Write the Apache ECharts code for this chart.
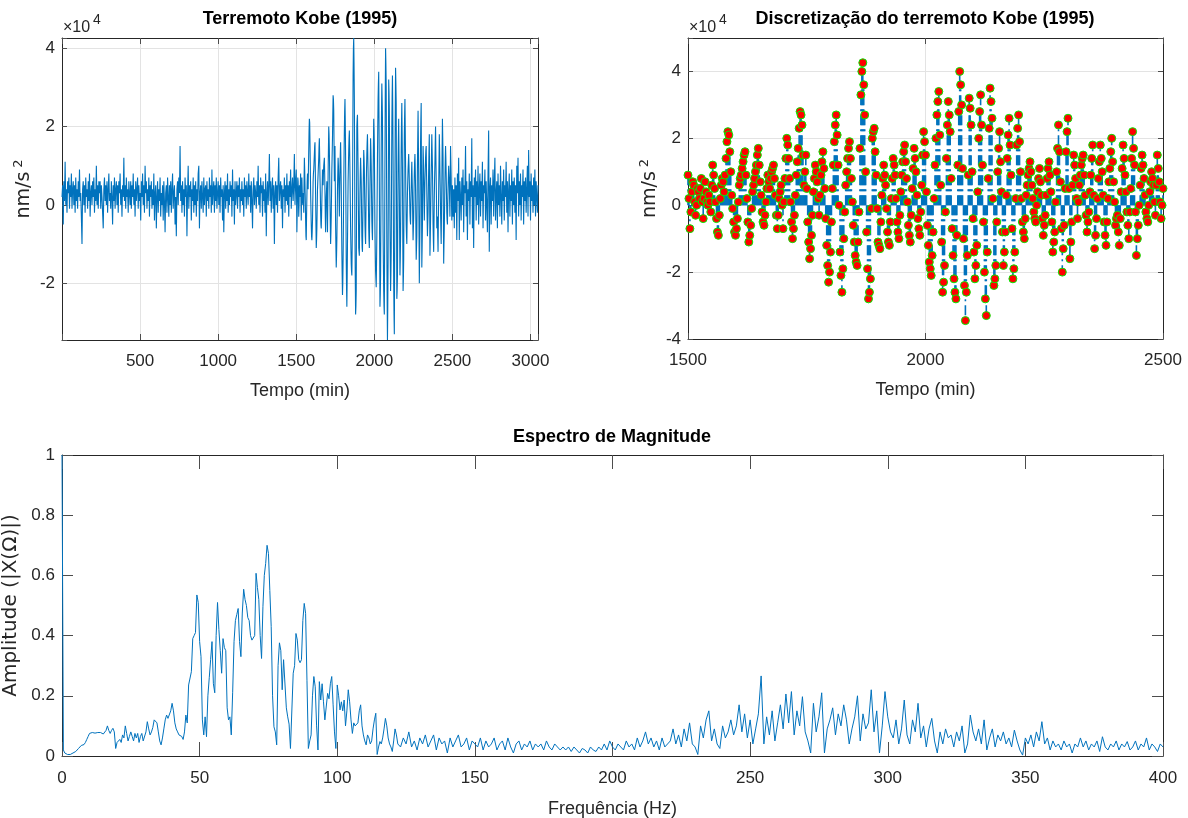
<!DOCTYPE html>
<html>
<head>
<meta charset="utf-8">
<script src="https://cdn.jsdelivr.net/npm/echarts@6/dist/echarts.min.js"></script>
<style>
html,body{margin:0;padding:0;background:#ffffff;}
#chart{width:1188px;height:818px;}
</style>
</head>
<body>
<div id="chart"></div>
<script>
// ---------------- DATA ----------------
// Kobe earthquake record, acceleration in 10^3 nm/s^2
// part 1: 0..1496 min, one value every 4 min
const kobeAStart = 0, kobeAStep = 4;
const kobeA = [
  2,5,-5,6,1,11,0,4,-2,6,
  3,7,-1,5,2,8,-1,4,6,0,
  5,-2,7,1,4,-1,6,2,9,1,
  3,-3,-10,4,6,0,5,-2,7,2,
  4,-1,6,1,8,-3,3,5,0,6,
  2,7,-2,4,1,10,0,5,-1,6,
  3,6,-1,5,2,-2,-6,4,7,1,
  5,0,6,-2,4,8,1,3,-1,6,
  2,-5,5,1,7,-1,4,6,0,5,
  -2,6,3,8,0,4,-3,5,2,12,
  1,5,-1,7,2,4,-2,6,3,0,
  6,-1,5,2,8,0,4,-3,6,1,
  4,7,-1,5,1,3,-4,6,2,8,
  0,5,-2,10,3,6,-1,4,1,7,
  -3,5,2,6,-1,4,0,8,-4,3,
  5,-6,2,6,-2,4,1,7,-3,3,
  0,5,-4,6,1,-7,3,5,-2,7,
  2,-3,5,0,6,-2,4,8,-1,3,
  5,-5,2,-8,4,6,0,7,3,15,
  1,5,-2,6,0,4,-3,7,2,5,
  -8,3,10,-1,5,2,6,-4,4,1,
  7,-2,5,0,6,-3,4,1,8,10,
  -6,3,5,-1,6,2,-2,7,0,4,
  5,-3,6,1,4,-1,7,2,5,-2,
  9,0,4,6,-2,5,1,7,-1,3,
  6,0,5,-2,7,2,4,-4,5,-7,
  3,6,-1,5,1,8,-2,4,0,6,
  2,5,-3,9,1,4,-5,6,0,3,
  6,-1,5,2,7,-2,4,1,6,0,
  4,-3,7,2,5,-1,6,3,0,8,
  2,5,-2,6,1,-6,4,7,0,5,
  3,-1,6,2,10,0,5,-2,7,3,
  5,-3,6,1,4,-2,8,-8,3,6,
  0,5,13,1,6,-2,4,7,-1,5,
  -10,3,6,0,5,-2,7,12,1,4,
  6,-1,5,-6,4,2,7,-2,5,1,
  8,0,5,-3,6,2,9,-1,4,7,
  1,5,13,0,6
];
// part 2: 1500..2500 min, one value every 2 min
const kobeBStart = 1500, kobeBStep = 2;
const kobeB = [
  9,2,-7,-2,4,7,6,1,-3,0,5,4,2,5,8,1,-4,2,7,4,
  1,0,3,1,-2,6,12,9,5,1,-4,-8,-9,-3,2,6,8,7,4,9,
  14,19,22,21,16,10,3,-1,-5,-8,-9,-7,-4,1,6,8,9,11,13,15,
  16,9,2,-5,-11,-9,-6,-1,4,6,8,10,12,15,17,12,7,3,-2,-5,
  -6,-3,1,5,9,7,5,8,10,11,12,8,3,-3,-7,-3,2,4,6,0,
  -7,1,8,14,20,18,14,8,1,-5,-10,-7,-3,3,9,13,17,23,28,27,
  24,15,6,10,15,5,-5,-11,-16,-13,-9,-3,4,8,12,10,7,2,-3,3,
  9,13,16,11,5,-4,-12,-18,-23,-20,-14,-5,5,12,19,24,27,21,12,0,
  -14,-21,-26,-19,-10,-2,6,10,14,17,19,14,8,1,-6,-11,-15,-17,-18,-11,
  -2,17,33,40,42.6,36,27,10,-8,-19,-28,-26,-22,-1,20,22,23,16,9,-1,
  -11,-12,-13,-5,3,8,12,9,6,-1,-8,-11,-12,-5,2,8,14,12,9,2,
  -5,-8,-10,-3,4,9,13,16,18,13,8,1,-6,-9,-11,-3,5,11,17,14,
  10,3,-4,-7,-9,-2,6,15,22,19,15,4,-6,-12,-17,-19,-21,-15,-8,2,
  12,20,27,31,34,21,6,-11,-26,-23,-18,-2,14,24,31,27,22,8,-7,-15,
  -22,-26,-28,-9,12,28,40,36,30,11,-10,-24,-34.5,-26,-15,9,32,29,24,10,
  -4,-14,-22,-18,-12,4,20,28,33,24,12,-5,-20,-28,-33,-14,8,23,35,31,
  26,2,-24,-22,-18,-5,10,17,22,13,4,-8,-18,-14,-8,3,14,21,26,18,
  9,-7,-22,-19,-14,2,18,23,27,19,10,2,-5,-8,-10,-4,3,6,9,11,
  13,10,6,2,-2,-4,-5,0,4,8,11,7,3,-4,-9,-6,-3,3,8,11,
  13,9,4,-5,-14,-11,-8,1,10,17,24,16,7,-7,-20,-13,-6,5,16,22,
  26,5,-16,-11,-5,6,15,12,8,2,-4,1,6,9,12,14,15,9,3,-3,
  -8,-5,-2,4,9,14,18,3,-13,-9,-4,2,8,13,18,14,10,3,-5,-9,
  -12,-5,2,7,11,16,20,13,7,1,-6,-4,-3,-8,-12,-4,4,11,18,14,
  9,4,-2,-6,-10,-2,5,14,22,17,12,-2,-15,-10,-6,0,6,11,15,12,
  8,3,-2,-4,-5,0,4,7,10,8,6,1,-3,6,15,11,7,1,-4,0,
  5
];
// part 3: 2504..3048 min, one value every 4 min
const kobeCStart = 2504, kobeCStep = 4;
const kobeC = [
  -3,4,-6,7,-2,5,-9,8,1,12,
  -9,6,2,-4,7,0,9,-7,5,3,
  15,-3,6,-9,4,1,8,-5,6,2,
  17,-6,5,-11,7,2,9,-4,6,0,
  10,-5,4,8,-3,6,1,11,-6,5,
  3,9,-4,6,0,-7,8,19,-12,4,
  7,-5,5,1,9,-3,6,12,-4,3,
  6,-6,8,0,5,-3,10,2,-5,6,
  1,9,-4,5,2,11,-2,6,-7,4,
  8,-3,5,1,9,-5,6,0,7,-2,
  5,-9,10,3,12,-3,6,0,8,-4,
  5,2,9,-5,6,1,7,-2,4,10,
  -3,14,2,6,-4,8,1,5,-2,7,
  0,9,-3,6,2,-2,5
];
const kobeTimeMax = 3048;
const stemFrom = 1500;
const stemTo = 2500;

// Magnitude spectrum (normalised), in hundredths
const specLowStartHz = 0, specLowStepHz = 0.5;
const specLow = [
  100,2,1,1,0.5,0.5,0.5,0.7,1,1.2,
  1.5,2,2.5,3,3.5,4,3.8,4.5,5.5,6.5,
  7.5,7,7.8,8,7.6,8.2,7.8,7.5,7.8,7.2,
  7.3,7.8,8.5,10,8.5,7.5,8.5,9.2,8,2.5,
  4.5,4.8,5.5,4.5,7,6,10,7.5,5,6.5,
  8,6.5,5,7.5,6,7.5,4.5,6.5,7.5,5,
  4.8,8,11.4,9,7,8,9.5,12,12.5,11,
  8,5,3.7,6,9,12,13.6,12.5,13,15,
  17.5,15,11,9,8,7,7.5,6.5,5.5,8,
  13.6,11,23.6,23,28,39,40,41,53.5,51,
  38,33,12,7,13,6.4,20,26,32,38,
  24,21,40,51,42,35,27.5,39,36,35,
  16,12,13,7,21,38,45,47,49,38,
  33,47.5,55.4,52,50,46,45,40,38.5,39,
  40,60.7,56,52,40,32.4,49.6,60,64,70,
  67.3,55,43,20,9.7,8,3.7,30,37.6,35,
  22,32,32,16,13,10.6,2.5,3,27.5,30,
  40.7,38.5,32,31,32,45,50.7,47.4,25,2.5,
  5,7,20,26.4,23,10,2,24.7,18.6,24,
  18,12,12,20.8,19,24,26.4,17,8,2.5,
  23.6,20,15.3,18,15,18.6,10,15,22,18,
  12,7.5,11,10,10,11,15,17,10,7,
  5,3.7,7,6,4,5,9,12,14.2,0.5,
  3,4.8,4,6,9,12.5,10,6,4,3,
  1.5,5,9,7,4
];
const specHighStartHz = 123, specHighStepHz = 1;
const specHigh = [
  3,6,4,8,3,5,2,6,4,7,
  3,5,7,2,6,4,5,1,6,3,
  5,7,3,4,6,2,5,4,3,6,
  2,5,3,4,6,2,4,5,2,6,
  3,1,4,5,2,4,3,5,2,4,
  3,4,2,5,3,2,4,3,2,3,
  2,3,1.5,3,2,1,2.5,2,1,3,
  2,1.5,3,2,4,2,5,3,2,4,
  3,2,5,3,4,2,6,3,5,8,
  4,6,3,5,2,6,3,4,5,9,
  4,7,3,9,5,11,4,3,0.5,10,
  6,12,15,5,9,4,2.5,10,6,8,
  12,7,10,17,8,14,6,12,4,9,
  14,26.6,4,13,7,15,5,11,17,9,
  20.6,11,21.4,7,15,10,19.7,8,5,1,
  17.5,8,13,21,1,9,12,16,7,14,
  10,17,12,4,9,13,20,5,14,9,
  11,22,8,15,1,10,21.4,13,8,6,
  12,4,9,18.6,7,4,12,8,17.5,6,
  10,3,9,12.5,5,1,8,4,9,6,
  7,3,8,5,10,1,4,13.6,8,5,
  9,4,12,2,6,9,3,7,5,8,
  4,6,3,8.6,5,2,0.3,6,4,7,
  3,8,5,11.4,4,6,2,5,3,4,
  2,5,3,4,1,4,3,6,3,5,
  2,4,3,5,1.5,6.4,3,2,4,3,
  5,2,4,3,4.8,2,3,5,2,4,
  3,6,2,4,3,1.5,4,3
];

// ---------------- BUILD ----------------
function seg(arr, start, step) { return arr.map((v, i) => [start + i * step, v / 10]); } // -> x10^4 units
const kobe = seg(kobeA, kobeAStart, kobeAStep)
  .concat(seg(kobeB, kobeBStart, kobeBStep))
  .concat(seg(kobeC, kobeCStart, kobeCStep));
const stems = kobe.filter(p => p[0] >= stemFrom && p[0] <= stemTo);
const spectrum = specLow.map((v, i) => [specLowStartHz + i * specLowStepHz, v / 100])
  .concat(specHigh.map((v, i) => [specHighStartHz + i * specHighStepHz, v / 100]));

const FONT = "'Liberation Sans', Arial, Helvetica, sans-serif";
const TEXFONT = "'DejaVu Sans', 'Liberation Sans', sans-serif";
const AX = '#262626';
const TICK = '#4d4d4d';
const GRIDC = '#e3e3e3';
const BLUE = '#0072BD';

function xAx(grid, pos, min, max, interval, opt) {
  const isMain = pos === 'bottom';
  return Object.assign({
    type: 'value', gridIndex: grid, position: pos, min: min, max: max, interval: interval,
    axisLine: { show: true, onZero: false, lineStyle: { color: AX, width: 1 } },
    axisTick: { show: true, inside: true, length: opt.tick, lineStyle: { color: TICK, width: 1 } },
    axisLabel: { show: isMain, fontFamily: FONT, fontSize: 17, color: AX, margin: opt.margin,
      formatter: opt.fmt || (v => String(v)) },
    splitLine: { show: isMain && opt.split, lineStyle: { color: GRIDC, width: 1 } }
  }, isMain ? { name: opt.name, nameLocation: 'middle', nameGap: opt.nameGap,
    nameTextStyle: { fontFamily: FONT, fontSize: 18, color: AX } } : {});
}
function yAx(grid, pos, min, max, extra, opt) {
  const isMain = pos === 'left';
  return Object.assign({
    type: 'value', gridIndex: grid, position: pos, min: min, max: max,
    axisLine: { show: true, onZero: false, lineStyle: { color: AX, width: 1 } },
    axisTick: { show: true, inside: true, length: opt.tick, lineStyle: { color: TICK, width: 1 } },
    axisLabel: { show: isMain, fontFamily: FONT, fontSize: 17, color: AX, margin: 7,
      formatter: opt.fmt || (v => String(v)) },
    splitLine: { show: isMain && opt.split, lineStyle: { color: GRIDC, width: 1 } }
  }, extra, isMain ? { name: opt.name, nameLocation: 'middle', nameGap: opt.nameGap, nameRotate: 90,
    nameTextStyle: opt.nameStyle } : {});
}

const even = v => (Math.abs(v % 2) < 1e-9 ? String(v) : '');
const nmStyle = { fontFamily: TEXFONT, color: AX,
  rich: { n: { fontFamily: TEXFONT, fontSize: 19, color: AX, lineHeight: 24 },
          s: { fontFamily: TEXFONT, fontSize: 13, color: AX, verticalAlign: 'top' } } };

const gridBase = { containLabel: false, outerBoundsMode: 'none' };
const option = {
  animation: false,
  backgroundColor: '#ffffff',
  grid: [
    Object.assign({ left: 62, top: 38, width: 476, height: 302 }, gridBase),
    Object.assign({ left: 688, top: 38, width: 475, height: 301 }, gridBase),
    Object.assign({ left: 62, top: 455, width: 1101, height: 301 }, gridBase)
  ],
  xAxis: [
    xAx(0, 'bottom', 0, kobeTimeMax, 500, { tick: 6, margin: 13, split: true, name: 'Tempo (min)', nameGap: 42,
      fmt: v => (v > 0 && v % 500 === 0 ? String(v) : '') }),
    xAx(0, 'top', 0, kobeTimeMax, 500, { tick: 6 }),
    xAx(1, 'bottom', stemFrom, stemTo, 500, { tick: 6, margin: 13, split: true, name: 'Tempo (min)', nameGap: 42 }),
    xAx(1, 'top', stemFrom, stemTo, 500, { tick: 6 }),
    xAx(2, 'bottom', 0, 400, 50, { tick: 14, margin: 14, split: false, name: 'Frequência (Hz)', nameGap: 44 }),
    xAx(2, 'top', 0, 400, 50, { tick: 14 })
  ],
  yAxis: [
    yAx(0, 'left', -3.45, 4.26, { minInterval: 2, maxInterval: 2 }, { tick: 5, split: true, fmt: even,
      name: '{n|nm/s} {s|2}', nameGap: 26, nameStyle: nmStyle }),
    yAx(0, 'right', -3.45, 4.26, { minInterval: 2, maxInterval: 2 }, { tick: 5 }),
    yAx(1, 'left', -4, 5, { interval: 2 }, { tick: 5, split: true, fmt: even,
      name: '{n|nm/s} {s|2}', nameGap: 26, nameStyle: nmStyle }),
    yAx(1, 'right', -4, 5, { interval: 2 }, { tick: 5 }),
    yAx(2, 'left', 0, 1, { interval: 0.2 }, { tick: 11, split: false,
      name: 'Amplitude (|X(Ω)|)', nameGap: 30,
      nameStyle: { fontFamily: TEXFONT, fontSize: 20, color: AX } }),
    yAx(2, 'right', 0, 1, { interval: 0.2 }, { tick: 11 })
  ],
  graphic: [
    { type: 'text', x: 300, y: 19, style: { text: 'Terremoto Kobe (1995)', font: 'bold 18px ' + FONT, fill: '#000', align: 'center', verticalAlign: 'middle' } },
    { type: 'text', x: 925, y: 19, style: { text: 'Discretização do terremoto Kobe (1995)', font: 'bold 18px ' + FONT, fill: '#000', align: 'center', verticalAlign: 'middle' } },
    { type: 'text', x: 612, y: 437, style: { text: 'Espectro de Magnitude', font: 'bold 18px ' + FONT, fill: '#000', align: 'center', verticalAlign: 'middle' } },
    { type: 'text', x: 63, y: 28, style: { text: '×10', font: '16px ' + FONT, fill: AX, align: 'left', verticalAlign: 'middle' } },
    { type: 'text', x: 93, y: 20, style: { text: '4', font: '14px ' + FONT, fill: AX, align: 'left', verticalAlign: 'middle' } },
    { type: 'text', x: 689, y: 28, style: { text: '×10', font: '16px ' + FONT, fill: AX, align: 'left', verticalAlign: 'middle' } },
    { type: 'text', x: 719, y: 20, style: { text: '4', font: '14px ' + FONT, fill: AX, align: 'left', verticalAlign: 'middle' } }
  ],
  series: [
    { type: 'line', xAxisIndex: 0, yAxisIndex: 0, data: kobe, showSymbol: false, symbol: 'none',
      lineStyle: { color: BLUE, width: 1.1 }, clip: true, z: 3 },
    { type: 'custom', xAxisIndex: 2, yAxisIndex: 2, data: stems, z: 3,
      encode: { x: 0, y: 1 },
      renderItem: function (params, api) {
        const x = api.value(0), y = api.value(1);
        const a = api.coord([x, 0]);
        const b = api.coord([x, y]);
        return { type: 'line', shape: { x1: a[0], y1: a[1], x2: b[0], y2: b[1] },
          style: { stroke: BLUE, lineWidth: 1.6, lineDash: [10, 4, 2, 4], fill: null } };
      } },
    { type: 'scatter', xAxisIndex: 2, yAxisIndex: 2, data: stems, symbol: 'circle', symbolSize: 8, z: 4,
      itemStyle: { color: '#ff0000', borderColor: '#00ee00', borderWidth: 1, opacity: 1 } },
    { type: 'line', xAxisIndex: 4, yAxisIndex: 4, data: spectrum, showSymbol: false, symbol: 'none',
      lineStyle: { color: BLUE, width: 1 }, clip: true, z: 3 }
  ]
};

const chart = echarts.init(document.getElementById('chart'), null, { renderer: 'canvas' });
chart.setOption(option);
</script>
</body>
</html>
